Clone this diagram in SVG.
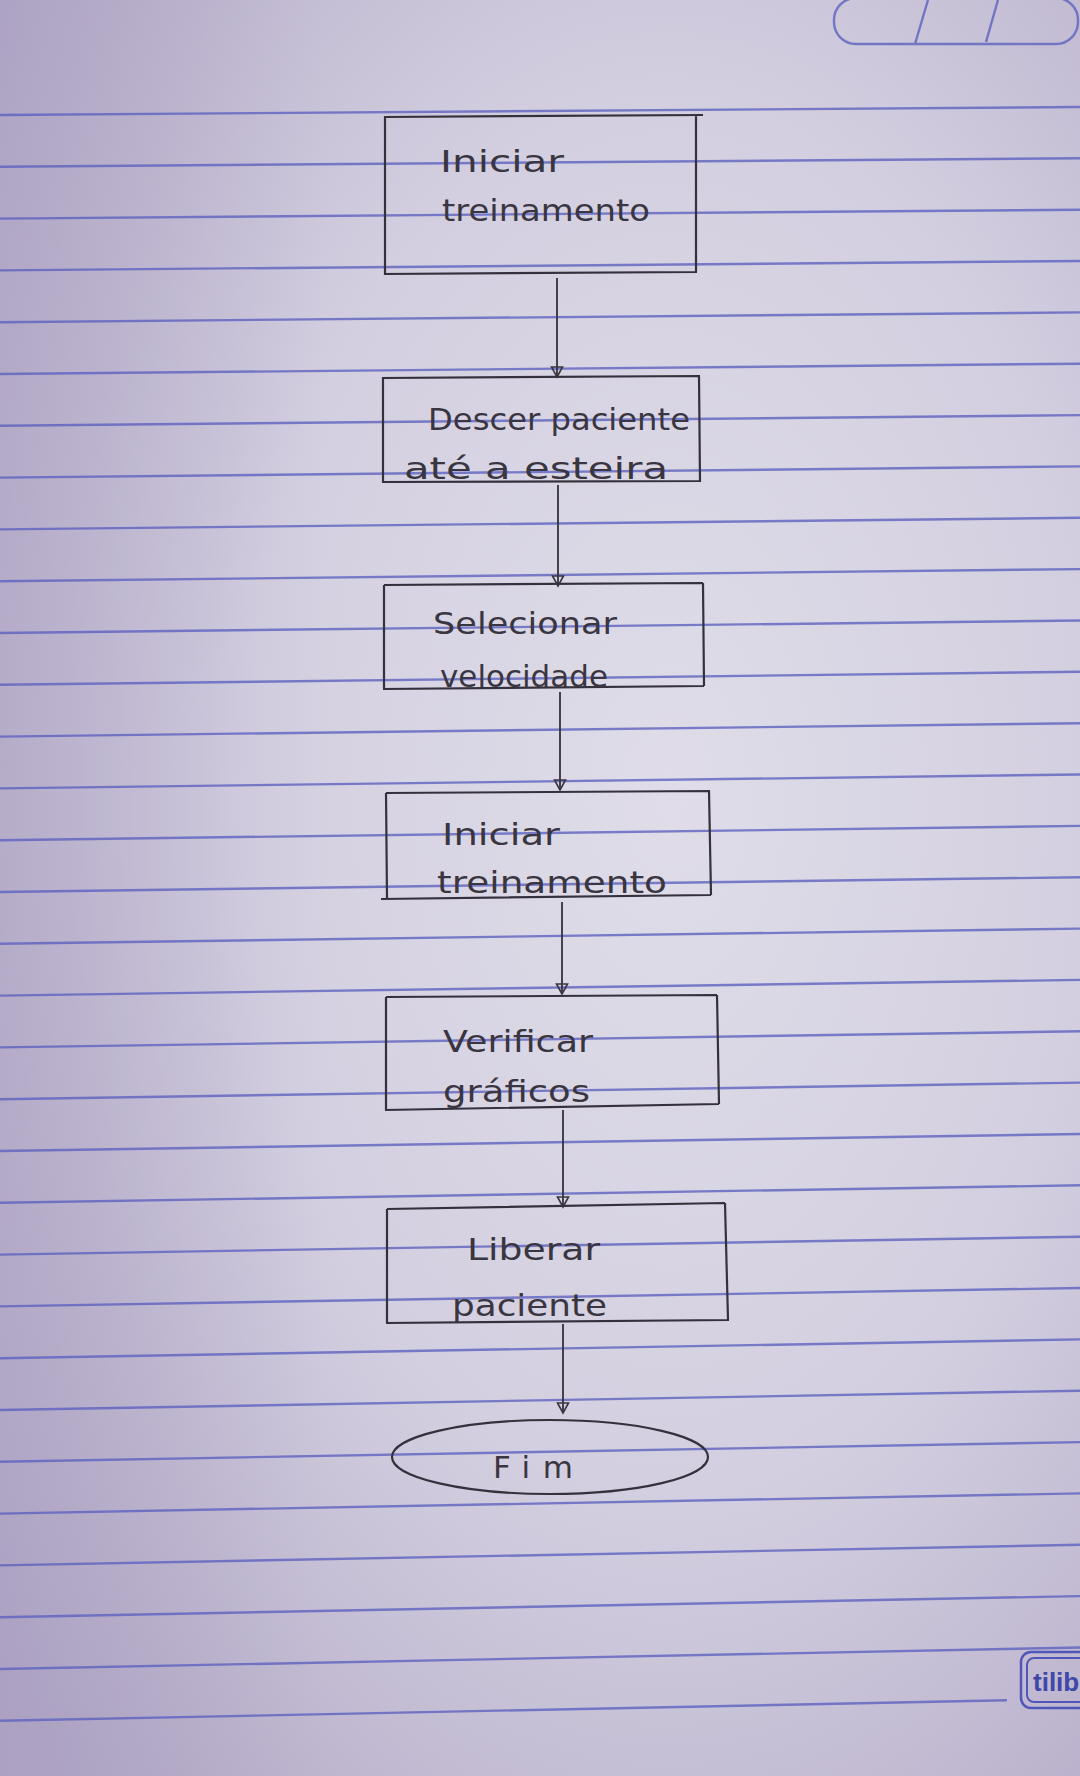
<svg xmlns="http://www.w3.org/2000/svg" width="1080" height="1776" viewBox="0 0 1080 1776">
  <defs>
    <radialGradient id="paper" cx="0.62" cy="0.45" r="0.78">
      <stop offset="0" stop-color="#e0dde9"/>
      <stop offset="0.5" stop-color="#d3cfe0"/>
      <stop offset="1" stop-color="#b1a7c5"/>
    </radialGradient>
    <linearGradient id="shade" x1="0" y1="0" x2="1" y2="0">
      <stop offset="0" stop-color="#a497bd" stop-opacity="0.35"/>
      <stop offset="0.3" stop-color="#a497bd" stop-opacity="0"/>
      <stop offset="1" stop-color="#ffffff" stop-opacity="0"/>
    </linearGradient>
    <marker id="arr" markerWidth="14" markerHeight="14" refX="12" refY="7" orient="auto" markerUnits="userSpaceOnUse">
      <path d="M2,1.5 L12,7 L2,12.5 Z" fill="none" stroke="#3b3742" stroke-width="1.6"/>
    </marker>
    <style>
      .rule { stroke: #5c63bf; stroke-width: 2.4; fill: none; opacity: 0.8; }
      .box { fill: none; stroke: #35313c; stroke-width: 2.2; }
      .hand { font-family: "DejaVu Sans", "Liberation Sans", sans-serif; font-size: 31px; fill: #3a3641; }
      .conn { stroke: #35313c; stroke-width: 1.8; fill: none; }
    </style>
  </defs>

  <rect x="0" y="0" width="1080" height="1776" fill="url(#paper)"/>
  <rect x="0" y="0" width="1080" height="1776" fill="url(#shade)"/>

  <g id="paper-lines">
    <line class="rule" x1="0" y1="115" x2="1080" y2="107" stroke-width="3"/>
    <line class="rule" x1="0" y1="166.8" x2="1080" y2="158.3"/>
    <line class="rule" x1="0" y1="218.6" x2="1080" y2="209.7"/>
    <line class="rule" x1="0" y1="270.4" x2="1080" y2="261.0"/>
    <line class="rule" x1="0" y1="322.2" x2="1080" y2="312.4"/>
    <line class="rule" x1="0" y1="374.0" x2="1080" y2="363.7"/>
    <line class="rule" x1="0" y1="425.8" x2="1080" y2="415.1"/>
    <line class="rule" x1="0" y1="477.6" x2="1080" y2="466.4"/>
    <line class="rule" x1="0" y1="529.4" x2="1080" y2="517.8"/>
    <line class="rule" x1="0" y1="581.2" x2="1080" y2="569.1"/>
    <line class="rule" x1="0" y1="633.0" x2="1080" y2="620.5"/>
    <line class="rule" x1="0" y1="684.8" x2="1080" y2="671.8"/>
    <line class="rule" x1="0" y1="736.6" x2="1080" y2="723.2"/>
    <line class="rule" x1="0" y1="788.4" x2="1080" y2="774.5"/>
    <line class="rule" x1="0" y1="840.2" x2="1080" y2="825.9"/>
    <line class="rule" x1="0" y1="892.0" x2="1080" y2="877.2"/>
    <line class="rule" x1="0" y1="943.8" x2="1080" y2="928.6"/>
    <line class="rule" x1="0" y1="995.6" x2="1080" y2="979.9"/>
    <line class="rule" x1="0" y1="1047.4" x2="1080" y2="1031.3"/>
    <line class="rule" x1="0" y1="1099.2" x2="1080" y2="1082.6"/>
    <line class="rule" x1="0" y1="1151.0" x2="1080" y2="1134.0"/>
    <line class="rule" x1="0" y1="1202.8" x2="1080" y2="1185.3"/>
    <line class="rule" x1="0" y1="1254.6" x2="1080" y2="1236.7"/>
    <line class="rule" x1="0" y1="1306.4" x2="1080" y2="1288.0"/>
    <line class="rule" x1="0" y1="1358.2" x2="1080" y2="1339.4"/>
    <line class="rule" x1="0" y1="1410.0" x2="1080" y2="1390.7"/>
    <line class="rule" x1="0" y1="1461.8" x2="1080" y2="1442.1"/>
    <line class="rule" x1="0" y1="1513.6" x2="1080" y2="1493.4"/>
    <line class="rule" x1="0" y1="1565.4" x2="1080" y2="1544.8"/>
    <line class="rule" x1="0" y1="1617.2" x2="1080" y2="1596.1"/>
    <line class="rule" x1="0" y1="1669.0" x2="1080" y2="1647.5"/>
    <line class="rule" x1="0" y1="1720.8" x2="1007" y2="1700.3"/>
  </g>

  <g id="date-box" fill="none" stroke="#5c63bf" stroke-width="2.4" opacity="0.8">
    <rect x="834" y="-2" width="244" height="46" rx="22"/>
    <line x1="928" y1="0" x2="915" y2="44"/>
    <line x1="998" y1="0" x2="986" y2="42"/>
  </g>

  <g id="brand">
    <rect x="1021" y="1652" width="80" height="56" rx="10" fill="none" stroke="#4f57b8" stroke-width="2.5"/>
    <rect x="1027" y="1658" width="70" height="44" rx="7" fill="none" stroke="#4f57b8" stroke-width="2"/>
    <text x="1033" y="1691" font-family="'Liberation Sans', sans-serif" font-size="26" font-weight="bold" fill="#3f47a8">tilib</text>
  </g>

  <g id="connectors">
    <line class="conn" x1="557" y1="278" x2="557" y2="377" marker-end="url(#arr)"/>
    <line class="conn" x1="558" y1="485" x2="558" y2="586" marker-end="url(#arr)"/>
    <line class="conn" x1="560" y1="692" x2="560" y2="790" marker-end="url(#arr)"/>
    <line class="conn" x1="562" y1="902" x2="562" y2="994" marker-end="url(#arr)"/>
    <line class="conn" x1="563" y1="1110" x2="563" y2="1207" marker-end="url(#arr)"/>
    <line class="conn" x1="563" y1="1324" x2="563" y2="1413" marker-end="url(#arr)"/>
  </g>

  <g id="node-iniciar-1">
    <path class="box" d="M384,117 L703,115 M385,116 L385,275 M696,115 L696,272 M384,274 L697,272"/>
    <text class="hand" x="440" y="172" textLength="124" lengthAdjust="spacingAndGlyphs">Iniciar</text>
    <text class="hand" x="442" y="221" textLength="208" lengthAdjust="spacingAndGlyphs">treinamento</text>
  </g>

  <g id="node-descer">
    <path class="box" d="M383,378 L700,376 M383,377 L383,482 M699,376 L700,482 M382,482 L701,481"/>
    <text class="hand" x="428" y="430" textLength="262" lengthAdjust="spacingAndGlyphs">Descer paciente</text>
    <text class="hand" x="404" y="479" textLength="264" lengthAdjust="spacingAndGlyphs">até a esteira</text>
  </g>

  <g id="node-selecionar">
    <path class="box" d="M384,585 L703,583 M384,585 L384,688 M703,583 L704,686 M383,689 L704,686"/>
    <text class="hand" x="433" y="634" textLength="184" lengthAdjust="spacingAndGlyphs">Selecionar</text>
    <text class="hand" x="440" y="687" textLength="168" lengthAdjust="spacingAndGlyphs">velocidade</text>
  </g>

  <g id="node-iniciar-2">
    <path class="box" d="M386,793 L710,791 M386,793 L387,898 M709,791 L711,895 M381,899 L711,895"/>
    <text class="hand" x="442" y="845" textLength="118" lengthAdjust="spacingAndGlyphs">Iniciar</text>
    <text class="hand" x="437" y="893" textLength="230" lengthAdjust="spacingAndGlyphs">treinamento</text>
  </g>

  <g id="node-verificar">
    <path class="box" d="M386,997 L717,995 M386,997 L386,1110 M717,995 L719,1104 M385,1110 L719,1104"/>
    <text class="hand" x="443" y="1052" textLength="150" lengthAdjust="spacingAndGlyphs">Verificar</text>
    <text class="hand" x="443" y="1102" textLength="147" lengthAdjust="spacingAndGlyphs">gráficos</text>
  </g>

  <g id="node-liberar">
    <path class="box" d="M387,1209 L725,1203 M387,1209 L387,1323 M725,1203 L728,1320 M386,1323 L729,1320"/>
    <text class="hand" x="467" y="1260" textLength="133" lengthAdjust="spacingAndGlyphs">Liberar</text>
    <text class="hand" x="452" y="1316" textLength="155" lengthAdjust="spacingAndGlyphs">paciente</text>
  </g>

  <g id="node-fim">
    <ellipse class="box" cx="550" cy="1457" rx="158" ry="37"/>
    <text class="hand" x="493" y="1478" textLength="80" lengthAdjust="spacing">Fim</text>
  </g>
</svg>
